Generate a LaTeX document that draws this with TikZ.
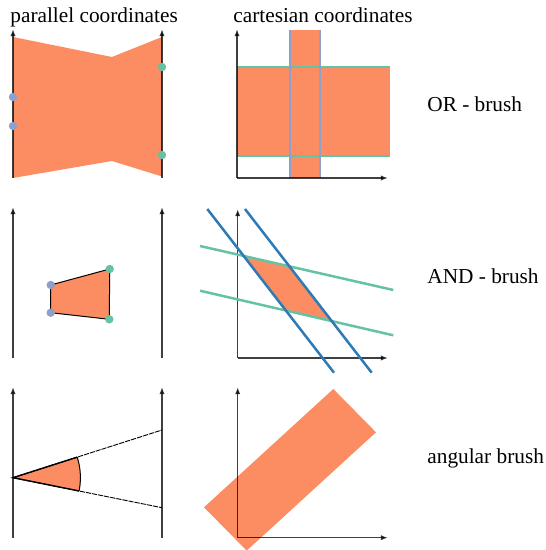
\documentclass[tikz,border=0pt]{standalone}
\usepackage{fontspec}
\setmainfont{Liberation Serif}
\usetikzlibrary{arrows.meta,calc}
\definecolor{brushorange}{HTML}{FC8D62}
\definecolor{brushgreen}{HTML}{66C2A5}
\definecolor{brushlav}{HTML}{8DA0CB}
\definecolor{brushblue}{HTML}{2C7BB6}
\begin{document}
\begin{tikzpicture}[x=0.5pt,y=-0.5pt,
  axis/.style={line width=0.7pt, black, draw opacity=0.75, fill opacity=0.75, -{Latex[length=3.6pt,width=2.7pt]}},
  lbl/.style={anchor=base west, inner sep=0pt, font=\fontsize{10.65}{12}\selectfont},
  gdot/.style={fill=brushgreen},
  ldot/.style={fill=brushlav},
  ray/.style={line width=0.45pt, black, dash pattern=on 2.6pt off 0.5pt},
  bandline/.style={line width=1pt},
  cutline/.style={line width=1.25pt}]
\useasboundingbox (0,0) rectangle (545,550);

% titles and labels
\node[lbl] (tpar) at (10,22.7) {parallel coordinates};
\node[lbl] (tcart) at (233,22.7) {cartesian coordinates};
\node[lbl] (lor) at (427,111.7) {OR - brush};
\node[lbl] (land) at (427,284) {AND - brush};
\node[lbl] (lang) at (427,463.3) {angular brush};

% ---------- row 1: OR brush ----------
\fill[brushorange] (13,37) -- (112,57) -- (162,37) -- (162,176.5) -- (112,161) -- (13,178) -- cycle;
\draw[axis] (13,178) -- (13,29);
\draw[axis] (162,178) -- (162,29);
\fill[ldot] (13,97) circle[radius=2.1pt];
\fill[ldot] (13,126) circle[radius=2.1pt];
\fill[gdot] (162,67) circle[radius=2.1pt];
\fill[gdot] (162,155) circle[radius=2.1pt];

\fill[brushorange] (290,30) rectangle (320,178);
\fill[brushorange] (237,67) rectangle (390,156);
\draw[bandline, brushgreen] (237,67) -- (390,67);
\draw[bandline, brushgreen] (237,156) -- (390,156);
\draw[bandline, brushlav] (290,30) -- (290,178);
\draw[bandline, brushlav] (320,30) -- (320,178);
\draw[axis] (237,178) -- (237,29);
\draw[axis] (237,178) -- (388,178);

% ---------- row 2: AND brush ----------
\draw[axis] (13,358) -- (13,207);
\draw[axis] (162,358) -- (162,207);
\filldraw[fill=brushorange, draw=black, line width=0.5pt] (50.7,285) -- (109.7,269) -- (109.3,319.3) -- (50.7,312.7) -- cycle;
\fill[ldot] (50.7,285) circle[radius=2.1pt];
\fill[ldot] (50.7,312.7) circle[radius=2.1pt];
\fill[gdot] (109.7,269) circle[radius=2.1pt];
\fill[gdot] (109.3,319.3) circle[radius=2.1pt];

\coordinate (b1a) at (207.3,209);
\coordinate (b1b) at (334,372.7);
\coordinate (b2a) at (245,209);
\coordinate (b2b) at (371.7,372.7);
\coordinate (g1a) at (200,246);
\coordinate (g1b) at (393.3,290);
\coordinate (g2a) at (200,290.7);
\coordinate (g2b) at (393.3,335.3);
\fill[brushorange] (intersection of b1a--b1b and g1a--g1b) -- (intersection of b2a--b2b and g1a--g1b)
  -- (intersection of b2a--b2b and g2a--g2b) -- (intersection of b1a--b1b and g2a--g2b) -- cycle;
\draw[axis] (237.7,358) -- (237.7,209);
\draw[axis] (237.7,358) -- (388,358);
\draw[cutline, brushgreen] (g1a) -- (g1b);
\draw[cutline, brushgreen] (g2a) -- (g2b);
\draw[cutline, brushblue] (b1a) -- (b1b);
\draw[cutline, brushblue] (b2a) -- (b2b);

% ---------- row 3: angular brush ----------
\coordinate (apex) at (13,477.7);
\coordinate (up) at (162,430);
\coordinate (lo) at (162,507.7);
\begin{scope}
  \clip (apex) -- (up) -- (lo) -- cycle;
  \fill[brushorange] (apex) circle[radius=33.7pt];
  \draw[line width=0.5pt] (apex) circle[radius=33.7pt];
\end{scope}
\draw[ray] (apex) -- (up);
\draw[ray] (apex) -- (lo);
\draw[line width=0.7pt] ($(apex)!33.7pt!(up)$) -- (apex) -- ($(apex)!33.7pt!(lo)$);
\draw[axis] (13,538) -- (13,387);
\draw[axis] (162,538) -- (162,387);

\fill[brushorange] (333.3,389) -- (376,432.3) -- (246.7,550.6) -- (204,507.3) -- cycle;
\draw[axis] (237.7,537.7) -- (237.7,387);
\draw[axis] (237.7,537.7) -- (388,537.7);
\end{tikzpicture}
\end{document}
